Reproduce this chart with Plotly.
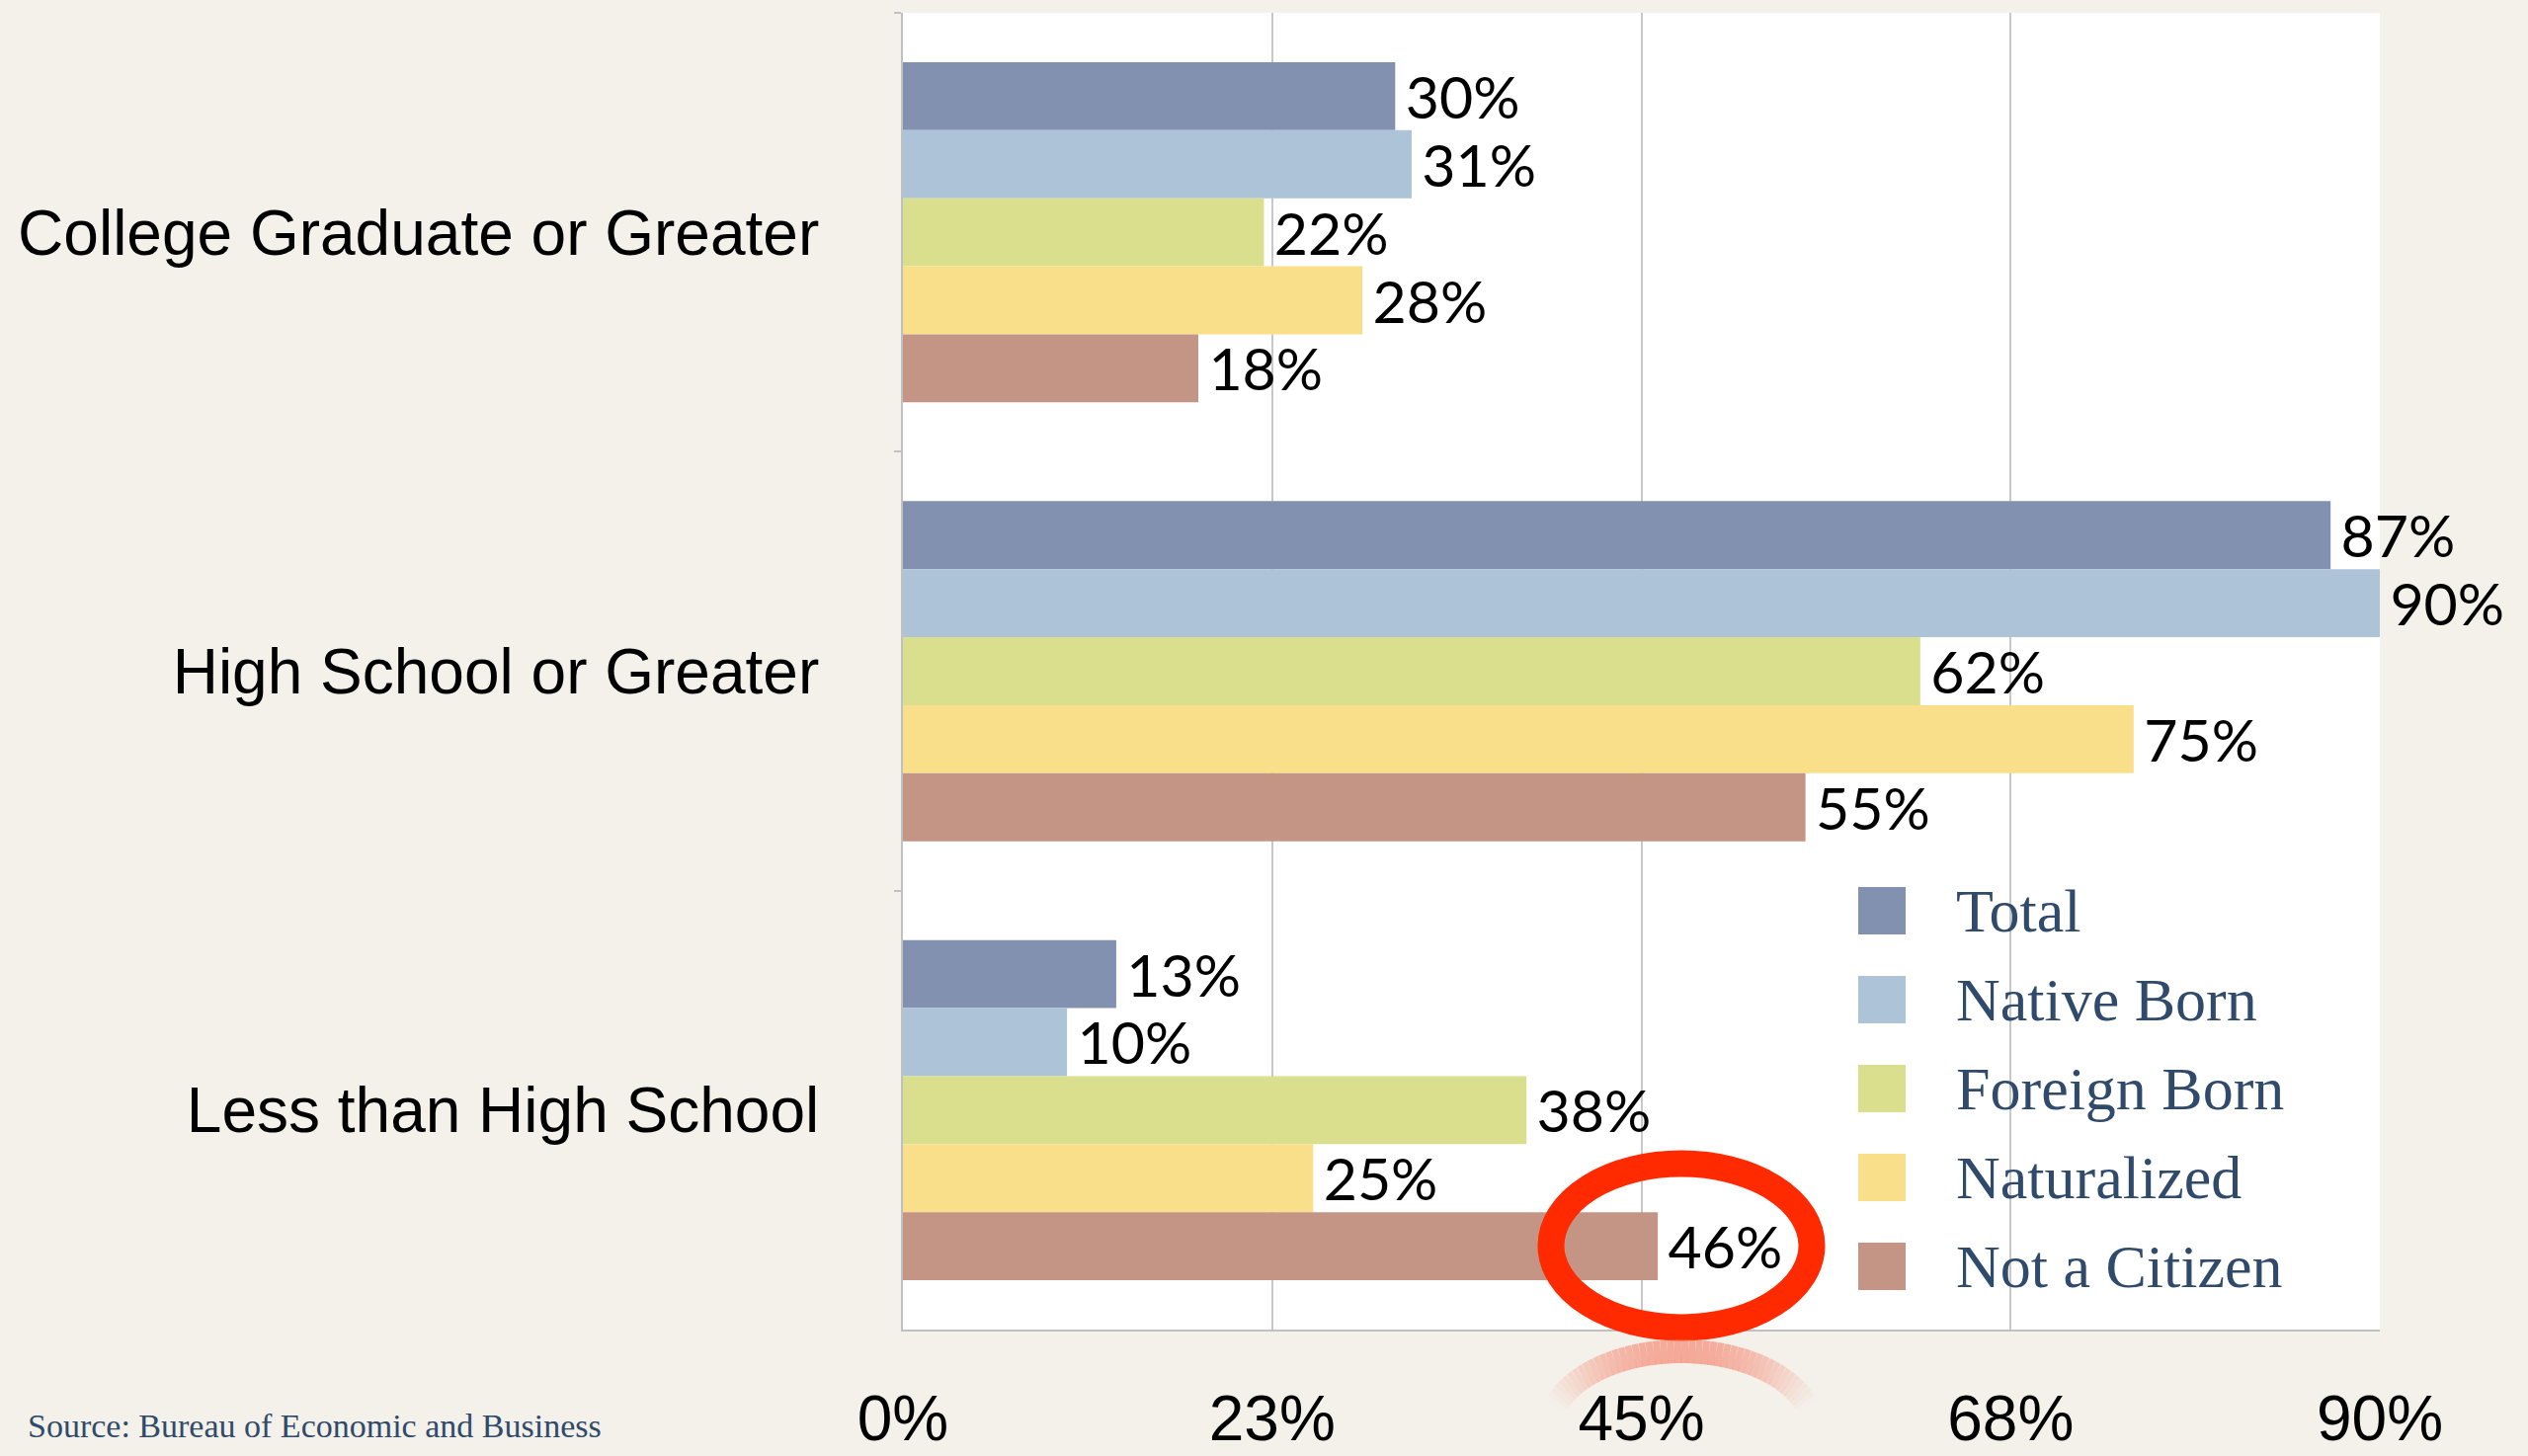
import math
import plotly.graph_objects as go

# ---- data ----
categories = ["College Graduate or Greater", "High School or Greater", "Less than High School"]
series_names = ["Total", "Native Born", "Foreign Born", "Naturalized", "Not a Citizen"]
total = [30, 87, 13]
native_born = [31, 90, 10]
foreign_born = [22, 62, 38]
naturalized = [28, 75, 25]
not_a_citizen = [18, 55, 46]
series_values = [total, native_born, foreign_born, naturalized, not_a_citizen]
colors = ["#8391B1", "#ADC4D8", "#DADF8E", "#F9DF8A", "#C49584"]
tick_vals = [0, 22.5, 45, 67.5, 90]
tick_text = ["0%", "23%", "45%", "68%", "90%"]
source_text = "Source: Bureau of Economic and Business"

# ---- layout geometry (pixels) ----
W, H = 2559, 1474
L, R, T, B = 914, 2409, 13, 1346
PW, PH = R - L, B - T


def px(x):
    return (x - L) / PW


def py(y):
    return (B - y) / PH


fig = go.Figure()
for name, vals, col in zip(series_names, series_values, colors):
    fig.add_trace(go.Bar(
        y=categories, x=vals, name=name, orientation="h",
        marker=dict(color=col, line=dict(width=0)),
        text=["\u2009%d%%" % v for v in vals], textposition="outside",
        textfont=dict(family="Lato", size=59, color="#000000"),
        constraintext="none", cliponaxis=False, showlegend=False,
        hoverinfo="x+y+name",
    ))

shapes = []
annotations = []

# legend (swatches + names built from the series lists)
for i, (name, col) in enumerate(zip(series_names, colors)):
    cy = 922 + 90 * i
    shapes.append(dict(type="rect", xref="paper", yref="paper",
                       x0=px(1881), x1=px(1929), y0=py(cy + 24), y1=py(cy - 24),
                       fillcolor=col, line=dict(width=0), layer="above"))
    annotations.append(dict(text=name, xref="paper", yref="paper",
                            x=px(1978), y=py(cy), xanchor="left", yanchor="middle",
                            showarrow=False,
                            font=dict(family="Liberation Serif", size=62, color="#2f4a6b")))

# red highlight ellipse
cx, cyy, rx, ry = 1702, 1261, 132, 83
shapes.append(dict(type="circle", xref="paper", yref="paper",
                   x0=px(cx - rx), x1=px(cx + rx), y0=py(cyy + ry), y1=py(cyy - ry),
                   line=dict(color="#FF2A00", width=27), layer="above"))

# faded reflection of the ellipse below the axis
rcy, rrx, rry = 1448, 134, 80
steps = 60
for k in range(steps):
    t0 = math.pi * k / steps
    t1 = math.pi * (k + 1) / steps
    s = math.sin((t0 + t1) / 2)
    thr = 0.30
    if s <= thr:
        continue
    op = 0.55 * ((s - thr) / (1 - thr)) ** 1.3
    xa, ya = cx + rrx * math.cos(t0), rcy - rry * math.sin(t0)
    xb, yb = cx + rrx * math.cos(t1), rcy - rry * math.sin(t1)
    shapes.append(dict(type="line", xref="paper", yref="paper",
                       x0=px(xa), y0=py(ya), x1=px(xb), y1=py(yb),
                       line=dict(color="rgba(245,110,85,%.3f)" % op, width=24)))

annotations.append(dict(text=source_text, xref="paper", yref="paper",
                        x=px(26), y=py(1443), xanchor="left", yanchor="middle",
                        showarrow=False,
                        font=dict(family="Liberation Serif", size=34, color="#2f4a6b")))

fig.update_layout(
    width=W, height=H,
    margin=dict(l=L, r=W - R, t=T, b=H - B, pad=0, autoexpand=False),
    paper_bgcolor="#F4F1EA", plot_bgcolor="#FFFFFF",
    barmode="group", bargap=0.225, bargroupgap=0,
    showlegend=False,
    shapes=shapes, annotations=annotations,
    xaxis=dict(range=[0, 90], tickvals=tick_vals, ticktext=tick_text,
               showgrid=True, gridcolor="#C8C8C8", gridwidth=2,
               showline=True, linecolor="#C0C0C0", linewidth=2,
               zeroline=False, ticks="", ticklabelstandoff=33, automargin=False,
               tickfont=dict(family="Liberation Sans", size=64, color="#000000")),
    yaxis=dict(autorange="reversed", showgrid=False, zeroline=False,
               showline=True, linecolor="#C0C0C0", linewidth=2,
               ticks="outside", tickson="boundaries", ticklen=7, automargin=False,
               tickcolor="#C0C0C0", tickwidth=2, ticklabelstandoff=70,
               tickfont=dict(family="Liberation Sans", size=64, color="#000000")),
)

fig.write_html("out.html", config={"displayModeBar": False},
               post_script="document.body.style.margin='0';document.body.style.overflow='hidden';")
